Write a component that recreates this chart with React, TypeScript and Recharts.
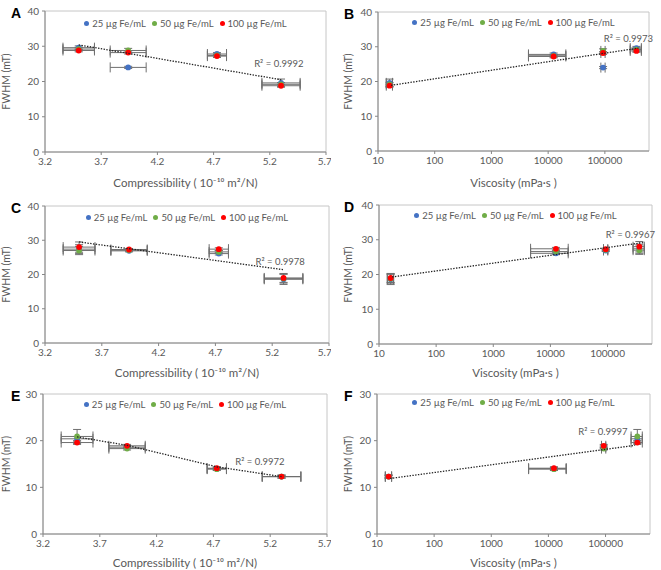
import { ScatterChart, Scatter, XAxis, YAxis, ErrorBar, ReferenceArea, ReferenceDot, Label, Legend } from "recharts";

const seriesNames = ["25 µg Fe/mL", "50 µg Fe/mL", "100 µg Fe/mL"];
const seriesColors = ["#4472C4", "#70AD47", "#FF0000"];

// samples ordered by compressibility (lowest first)
const compressibility = [3.5, 3.94, 4.73, 5.3];
const compressibilityErr = [0.14, 0.16, 0.085, 0.17];
const viscosity = [360000, 93000, 12500, 16];
const viscosityErr = [80000, 8000, 8000, 2];

const compTicks = [3.2, 3.7, 4.2, 4.7, 5.2, 5.7];
const viscTicks = [10, 100, 1000, 10000, 100000];
const ticks40 = [0, 10, 20, 30, 40];
const ticks30 = [0, 10, 20, 30];

// FWHM (mT), rows A/B, C/D, E/F
const fwhm1_25 = [29.6, 24.0, 27.8, 19.6];
const fwhm1_50 = [29.2, 28.8, 27.4, 19.2];
const fwhm1_100 = [28.8, 28.2, 27.2, 18.8];
const err1_25 = [0.5, 0.3, 0.4, 1.1];
const err1_50 = [0.5, 0.6, 0.4, 0.5];
const err1_100 = [0.4, 0.4, 0.4, 0.4];

const fwhm2_25 = [27.4, 26.9, 26.1, 18.6];
const fwhm2_50 = [27.0, 27.1, 26.6, 18.8];
const fwhm2_100 = [28.0, 27.3, 27.4, 19.0];
const err2_25 = [1.3, 0.3, 0.4, 1.5];
const err2_50 = [1.2, 0.3, 0.4, 1.3];
const err2_100 = [1.5, 0.3, 0.4, 1.3];

const fwhm3_25 = [20.4, 18.6, 14.0, 12.3];
const fwhm3_50 = [20.9, 18.3, 13.9, 12.3];
const fwhm3_100 = [19.6, 18.9, 14.1, 12.3];
const err3_25 = [0.5, 0.3, 0.3, 0.3];
const err3_50 = [1.5, 0.3, 0.3, 0.3];
const err3_100 = [0.4, 0.3, 0.3, 0.3];

// trend lines
const trendA = [{ x: 3.5, y: 30.4 }, { x: 5.3, y: 20.5 }];
const trendB = [{ x: 17, y: 18.9 }, { x: 390000, y: 29.6 }];
const trendC = [{ x: 3.5, y: 29.5 }, { x: 5.3, y: 21.4 }];
const trendD = [{ x: 17, y: 19.3 }, { x: 430000, y: 29.2 }];
const trendE = [{ x: 3.5, y: 20.8 }, { x: 3.94, y: 19.0 }, { x: 4.73, y: 14.4 }, { x: 5.3, y: 12.3 }];
const trendF = [{ x: 17, y: 11.9 }, { x: 330000, y: 19.0 }];

const r2Labels = ["R² = 0.9992", "R² = 0.9973", "R² = 0.9978", "R² = 0.9967", "R² = 0.9972", "R² = 0.9997"];

const FONT = "Lato, 'Open Sans', sans-serif";
const TEXT = "#595959";
const AXIS = "#868686";
const ERR = "#6f6f6f";
const W = 331;
const H = 190;

function pts(xs: number[], xe: number[], ys: number[], ye: number[]) {
  return xs.map((x, i) => ({ x, y: ys[i], ex: xe[i], ey: ye[i] }));
}

const rows = [
  { vals: [fwhm1_25, fwhm1_50, fwhm1_100], errs: [err1_25, err1_50, err1_100] },
  { vals: [fwhm2_25, fwhm2_50, fwhm2_100], errs: [err2_25, err2_50, err2_100] },
  { vals: [fwhm3_25, fwhm3_50, fwhm3_100], errs: [err3_25, err3_50, err3_100] },
];

const panels = [
  { letter: "A", row: 0, col: 0, log: false, plot: [45, 326, 11, 152], yMax: 40, trend: trendA, r2: [5.28, 25.0], legendY: 18 },
  { letter: "B", row: 0, col: 1, log: true, plot: [48, 319, 12, 151], yMax: 40, trend: trendB, r2: [260000, 32.2], legendY: 17 },
  { letter: "C", row: 1, col: 0, log: false, plot: [45, 329, 16, 153], yMax: 40, trend: trendC, r2: [5.27, 23.7], legendY: 22 },
  { letter: "D", row: 1, col: 1, log: true, plot: [49, 322, 15, 154], yMax: 40, trend: trendD, r2: [250000, 31.6], legendY: 20 },
  { letter: "E", row: 2, col: 0, log: false, plot: [43, 327, 14, 154], yMax: 30, trend: trendE, r2: [5.11, 15.6], legendY: 19 },
  { letter: "F", row: 2, col: 1, log: true, plot: [47, 320, 14, 154], yMax: 30, trend: trendF, r2: [90000, 21.9], legendY: 17 },
];

function LegendBox() {
  return (
    <div style={{ display: "flex", justifyContent: "center", gap: 6, fontFamily: FONT, fontSize: 9.5, color: TEXT }}>
      {seriesNames.map((n, i) => (
        <span key={n} style={{ display: "flex", alignItems: "center", gap: 3 }}>
          <span style={{ width: 5, height: 5, borderRadius: "50%", background: seriesColors[i], display: "inline-block" }} />
          {n}
        </span>
      ))}
    </div>
  );
}

function Panel({ p }: { p: (typeof panels)[number] }) {
  const [pl, pr, pt, pb] = p.plot;
  const row = rows[p.row];
  const xs = p.log ? viscosity : compressibility;
  const xe = p.log ? viscosityErr : compressibilityErr;
  const xDomain = p.log ? [10, 600000] : [3.2, 5.7];
  const tick = { fontSize: 10, fill: TEXT, fontFamily: FONT };
  return (
    <div style={{ position: "absolute", left: p.col * 330, top: p.row * 190, width: W, height: H }}>
      <div style={{ position: "absolute", left: p.col ? 14 : 11, top: pt - 6, font: "bold 14px Arial, sans-serif", color: "#000" }}>
        {p.letter}
      </div>
      <ScatterChart width={W} height={H} margin={{ top: pt, right: W - pr, bottom: 0, left: 0 }}>
        <ReferenceArea x1={xDomain[0]} x2={xDomain[1]} y1={0} y2={p.yMax} fill="none" stroke="#c6c6c6" />
        <XAxis
          type="number"
          dataKey="x"
          scale={p.log ? "log" : "linear"}
          domain={xDomain}
          ticks={p.log ? viscTicks : compTicks}
          tickFormatter={(v: number) => (p.log ? String(v) : v.toFixed(1))}
          allowDataOverflow
          height={H - pb}
          tick={tick}
          tickSize={3}
          tickMargin={3}
          axisLine={{ stroke: AXIS }}
          tickLine={{ stroke: AXIS }}
        >
          <Label
            value={p.log ? "Viscosity (mPa·s )" : "Compressibility ( 10⁻¹⁰ m²/N)"}
            position="insideBottom"
            offset={3}
            style={{ fontSize: 11.5, fontWeight: 400, fill: TEXT, fontFamily: FONT }}
          />
        </XAxis>
        <YAxis
          type="number"
          dataKey="y"
          domain={[0, p.yMax]}
          ticks={p.yMax === 40 ? ticks40 : ticks30}
          allowDataOverflow
          width={pl}
          tick={tick}
          tickSize={3}
          tickMargin={3}
          axisLine={{ stroke: AXIS }}
          tickLine={{ stroke: AXIS }}
        >
          <Label
            value="FWHM (mT)"
            angle={-90}
            position="insideLeft"
            offset={p.col ? 18 : 6}
            style={{ textAnchor: "middle", fontSize: 10.5, fontWeight: 400, fill: TEXT, fontFamily: FONT }}
          />
        </YAxis>
        <Legend
          layout="horizontal"
          verticalAlign="middle"
          align="center"
          wrapperStyle={{ top: p.legendY, left: pl, width: pr - pl }}
          content={() => <LegendBox />}
        />
        {row.vals.map((vals, i) => (
          <Scatter
            key={seriesNames[i]}
            name={seriesNames[i]}
            data={pts(xs, xe, vals, row.errs[i])}
            fill={seriesColors[i]}
            isAnimationActive={false}
            shape={(s: any) => <circle cx={s.cx} cy={s.cy} r={2.9} fill={seriesColors[i]} />}
          >
            <ErrorBar dataKey="ex" direction="x" width={5} stroke={ERR} strokeWidth={1} />
            <ErrorBar dataKey="ey" direction="y" width={4} stroke={ERR} strokeWidth={1} />
          </Scatter>
        ))}
        <Scatter
          data={p.trend}
          legendType="none"
          line={{ stroke: "#222", strokeWidth: 1.3, strokeDasharray: "1.4 1.4" }}
          shape={() => <g />}
          isAnimationActive={false}
        />
        <ReferenceDot
          x={p.r2[0]}
          y={p.r2[1]}
          r={0}
          fill="none"
          stroke="none"
          label={{ value: r2Labels[panels.indexOf(p)], position: "center", fontSize: 9.5, fill: TEXT, fontFamily: FONT }}
        />
      </ScatterChart>
    </div>
  );
}

export default function App() {
  return (
    <div style={{ position: "absolute", left: 0, top: 0, width: 661, height: 570, background: "#fff" }}>
      {panels.map((p) => (
        <Panel key={p.letter} p={p} />
      ))}
    </div>
  );
}
